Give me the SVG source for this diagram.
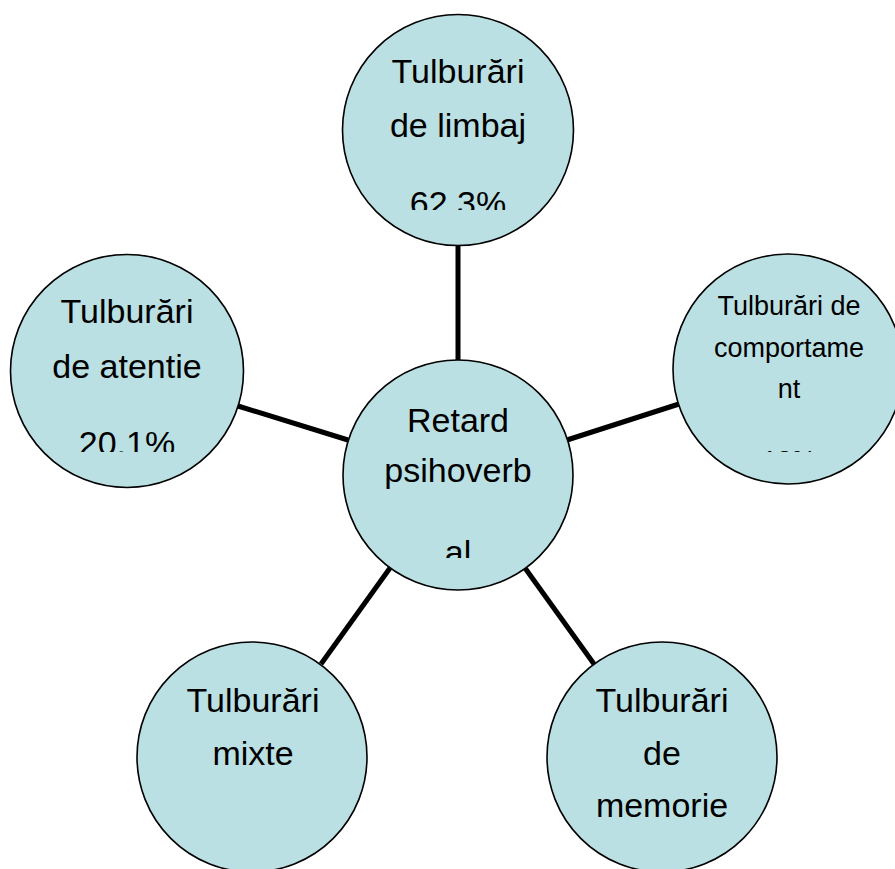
<svg xmlns="http://www.w3.org/2000/svg" width="895" height="869" viewBox="0 0 895 869">
  <style>
    .node { fill: #BAE0E3; stroke: #000; stroke-width: 1.6; }
    .edge { stroke: #000; stroke-width: 5; fill: none; }
    .lbl { font-family: "Liberation Sans", Arial, sans-serif; font-size: 34px; fill: #000; text-anchor: middle; }
    .sm { font-size: 27px; }
  </style>
  <defs>
    <clipPath id="clipTop"><rect x="0" y="0" width="895" height="210"/></clipPath>
    <clipPath id="clipLeft"><rect x="0" y="0" width="895" height="452"/></clipPath>
    <clipPath id="clipRight"><rect x="0" y="0" width="895" height="452"/></clipPath>
    <clipPath id="clipCenter"><rect x="0" y="0" width="895" height="558"/></clipPath>
  </defs>
  <rect width="895" height="869" fill="#fff"/>
  <g id="connectors">
    <line class="edge" x1="458" y1="245" x2="458" y2="361"/>
    <line class="edge" x1="238" y1="406" x2="348" y2="440"/>
    <line class="edge" x1="567" y1="440" x2="679" y2="404"/>
    <line class="edge" x1="390" y1="568" x2="321" y2="664"/>
    <line class="edge" x1="525" y1="568" x2="594" y2="664"/>
  </g>
  <g id="node-limbaj">
    <circle class="node" cx="458" cy="130" r="115.5"/>
    <text class="lbl" x="458" y="83">Tulburări</text>
    <text class="lbl" x="458" y="137">de limbaj</text>
    <text class="lbl" x="458" y="215" clip-path="url(#clipTop)">62.3%</text>
  </g>
  <g id="node-atentie">
    <circle class="node" cx="127" cy="371" r="116.5"/>
    <text class="lbl" x="127" y="323">Tulburări</text>
    <text class="lbl" x="127" y="378">de atentie</text>
    <text class="lbl" x="127" y="455" clip-path="url(#clipLeft)">20.1%</text>
  </g>
  <g id="node-comportament">
    <circle class="node" cx="788" cy="369" r="115"/>
    <text class="lbl sm" x="789" y="315">Tulburări de</text>
    <text class="lbl sm" x="789" y="357">comportame</text>
    <text class="lbl sm" x="789" y="398">nt</text>
    <text class="lbl sm" x="789" y="470" clip-path="url(#clipRight)">18%</text>
  </g>
  <g id="node-center">
    <circle class="node" cx="458" cy="475" r="115"/>
    <text class="lbl" x="458" y="432">Retard</text>
    <text class="lbl" x="458" y="482">psihoverb</text>
    <text class="lbl" x="458" y="564" clip-path="url(#clipCenter)">al</text>
  </g>
  <g id="node-mixte">
    <circle class="node" cx="252" cy="757" r="115"/>
    <text class="lbl" x="253" y="712">Tulburări</text>
    <text class="lbl" x="253" y="765">mixte</text>
  </g>
  <g id="node-memorie">
    <circle class="node" cx="662" cy="757" r="115"/>
    <text class="lbl" x="662" y="712">Tulburări</text>
    <text class="lbl" x="662" y="765">de</text>
    <text class="lbl" x="662" y="817">memorie</text>
  </g>
</svg>
